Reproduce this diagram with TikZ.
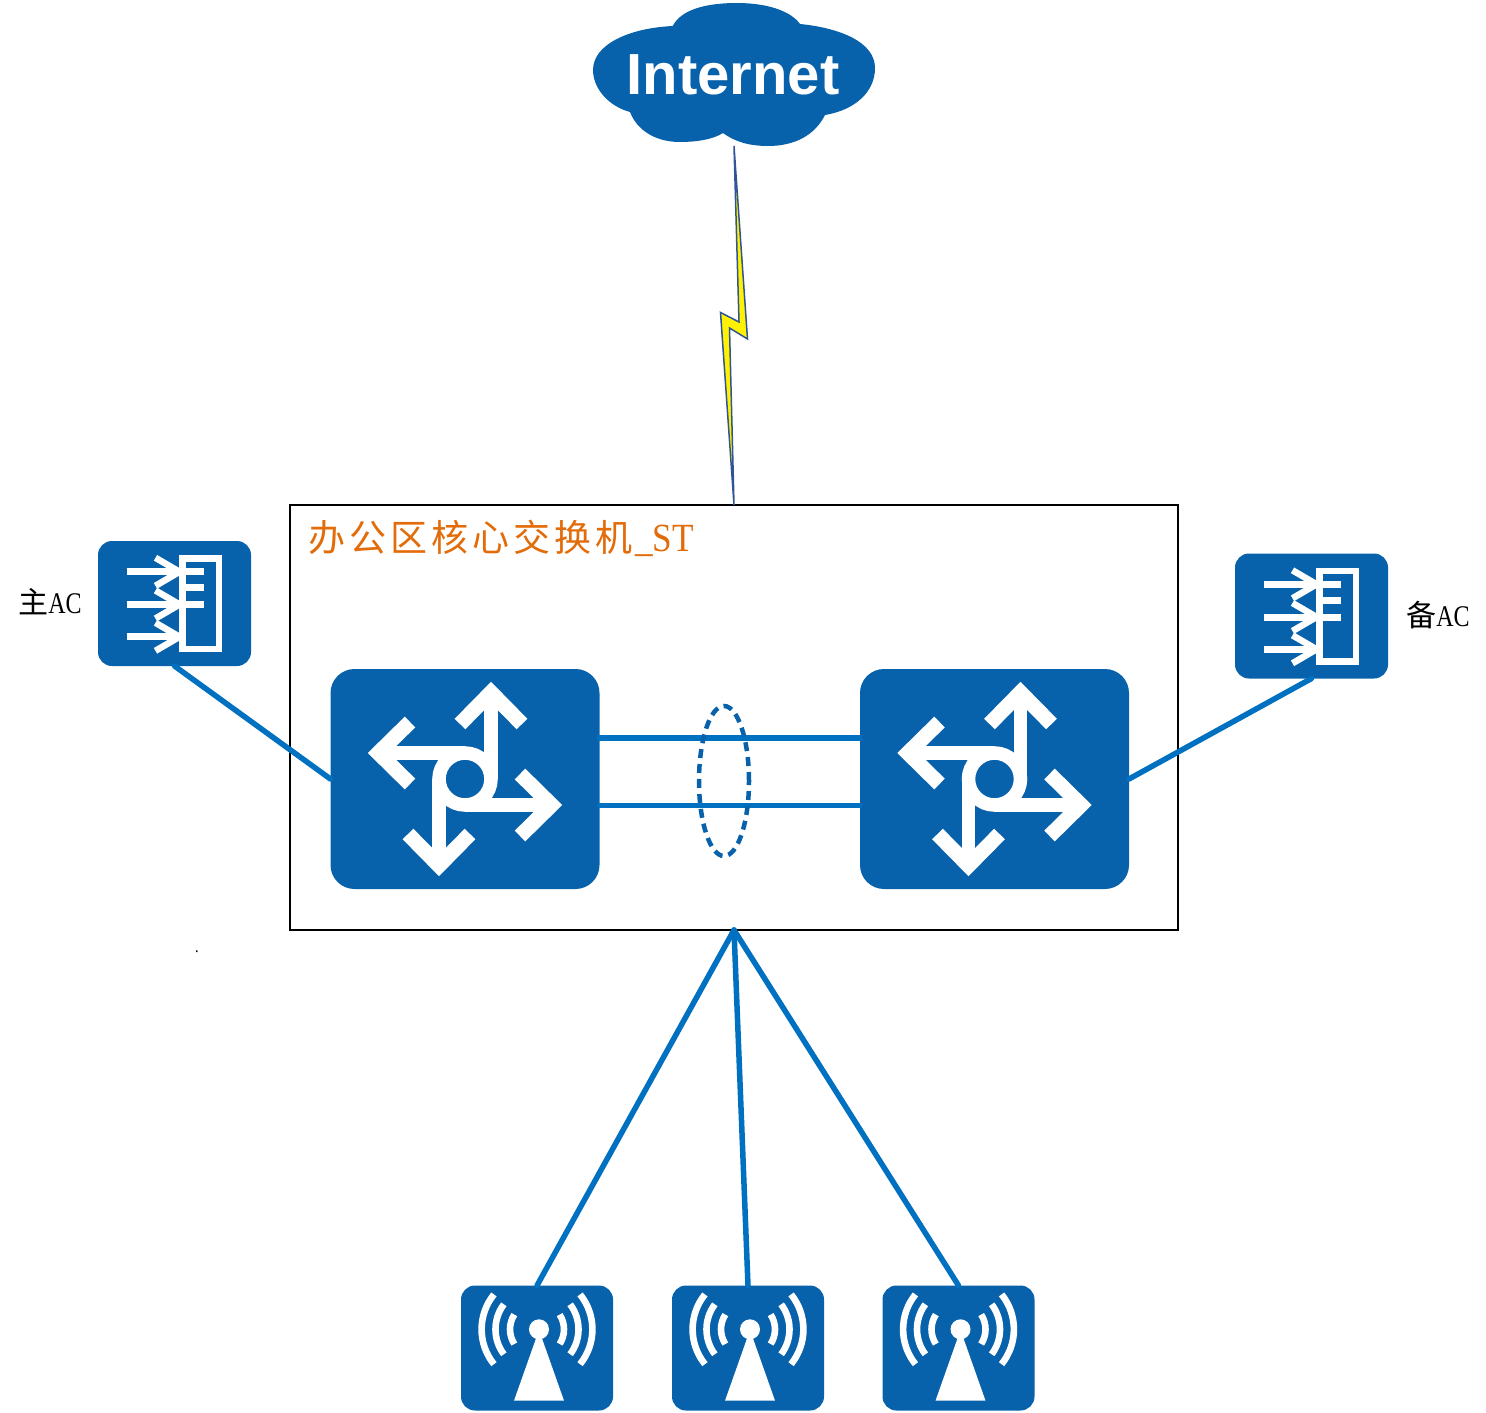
\documentclass[tikz,border=0pt]{standalone}
\usepackage{fontspec}
\usetikzlibrary{shapes.geometric}
\setmainfont{Liberation Sans}
\newfontfamily\cjkfont{Noto Sans CJK SC}
\newfontfamily\latinfont[FakeStretch=0.8]{Liberation Serif}
\newfontfamily\titlefont[FakeStretch=0.88]{Liberation Serif}
\definecolor{devblue}{HTML}{0862AB}
\definecolor{linkblue}{HTML}{0070C0}
\definecolor{boltblue}{HTML}{2F5597}
\definecolor{titleorange}{HTML}{E36C0A}
\tikzset{
	device/.style={fill=devblue, rounded corners=#1, inner sep=0, outer sep=0},
	acbox/.style={device=14, minimum width=153, minimum height=125},
	apbox/.style={device=14, minimum width=152, minimum height=125},
	rwbox/.style={device=24, minimum width=269, minimum height=220},
	link/.style={draw=linkblue, line width=5.5, line cap=round},
	glyph/.style={draw=white, line width=#1, miter limit=10},
	caption/.style={inner sep=0, font=\fontsize{30}{36}\selectfont}
}
% router glyph
\newcommand{\rwglyph}[1]{
	\begin{scope}[shift={(#1)}]
		\draw[glyph=13.5] (0,0) circle (26pt);
		\foreach \a in {0,90,180,270} {
			\begin{scope}[rotate=\a]
				\draw[glyph=13.5] (0,26)--(84,26);
				\draw[glyph=15] (55,-5)--(86.5,26)--(55,57);
			\end{scope}
		}
	\end{scope}
}
% AC glyph
\newcommand{\acglyph}[1]{
	\begin{scope}[shift={(#1)}]
		\draw[glyph=6.5] (8.2,-45) rectangle (44.5,45.7);
		\foreach \y in {-31.7,1,33.3} {
			\draw[glyph=7] (-48,\y)--(5,\y);
			\draw[glyph=6.5] (-19,\y-14)--(5,\y)--(-19,\y+14);
		}
		\foreach \y in {-31.7,-15.7,1} {
			\draw[glyph=7] (8,\y)--(29.5,\y);
		}
	\end{scope}
}
% AP glyph
\newcommand{\apglyph}[1]{
	\begin{scope}[shift={(#1)}]
		\fill[white] (-23,52.7)--(2,-18)--(27,52.7)--cycle;
		\fill[white] (2,-18.7) circle (10pt);
		\begin{scope}[shift={(0,-18.7)}]
			\foreach \r/\b in {27/33,41.5/37,55.4/39} {
				\draw[glyph=6.6] (\b:\r pt) arc[start angle=\b, end angle=-\b, radius=\r pt];
				\draw[glyph=6.6] (180-\b:\r pt) arc[start angle=180-\b, end angle=180+\b, radius=\r pt];
			}
		\end{scope}
	\end{scope}
}
\begin{document}
\begin{tikzpicture}[x=1pt, y=-1pt]
	\useasboundingbox (0,0) rectangle (1486,1413);

	% NODES
	\node[draw=black, line width=1.5, inner sep=0, outer sep=0, minimum width=888, minimum height=425] (core) at (734,717.5) {};
	\node[rwbox] (rw1) at (465,779) {};
	\node[rwbox] (rw2) at (994.5,779) {};
	\node[acbox] (ac1) at (174.5,603.5) {};
	\node[acbox] (ac2) at (1311.5,616) {};
	\node[apbox] (ap1) at (537,1348) {};
	\node[apbox] (ap2) at (748,1348) {};
	\node[apbox] (ap3) at (958.5,1348) {};
	\coordinate (boltTop) at (734,146);

	% CLOUD
	\fill[devblue] (672.7,26) .. controls (682,8) and (710,3) .. (737,3)
		.. controls (765,3) and (790,10) .. (800,24)
		.. controls (840,28) and (875,42) .. (875,68)
		.. controls (875,92) and (855,110) .. (825,115)
		.. controls (815,135) and (795,146) .. (768,146)
		.. controls (750,146) and (735,142) .. (723,133)
		.. controls (712,140) and (695,142) .. (680,142)
		.. controls (655,142) and (637,130) .. (630,112)
		.. controls (608,106) and (593,88) .. (593,70)
		.. controls (593,44) and (630,28) .. (672.7,26) -- cycle;
	\node[inner sep=0, text=white, font=\fontsize{58}{60}\selectfont\bfseries] (internet) at (733,75) {Internet};

	% DRAW LINKS
	\draw[link] (ac1.south)--(rw1.west);
	\draw[link] (ac2.south)--(rw2.east);
	\draw[link] ([yshift=41pt]rw1.east)--([yshift=41pt]rw2.west);
	\draw[link] ([yshift=-26.5pt]rw1.east)--([yshift=-26.5pt]rw2.west);
	\draw[link] (ap1.north)--(core.south);
	\draw[link] (ap2.north)--(core.south);
	\draw[link] (ap3.north)--(core.south);
	\node[draw=devblue, dash pattern=on 9pt off 6pt, line width=4.5, ellipse, inner sep=0, minimum width=50, minimum height=150] (lag) at (724,781) {};

	% BOLT
	\draw[draw=boltblue, fill=yellow, line width=1.5, line join=miter] (boltTop)--(739,322)--(720.5,312.5)--(core.north)--(729.5,328)--(747.5,339)--cycle;

	% DRAW GLYPHS
	\rwglyph{rw1.center}
	\rwglyph{rw2.center}
	\acglyph{ac1.center}
	\acglyph{ac2.center}
	\apglyph{ap1.center}
	\apglyph{ap2.center}
	\apglyph{ap3.center}

	% LABELS
	\node[inner sep=0, anchor=west, text=titleorange, font=\fontsize{37}{44}\selectfont] (title) at (308,538) {\cjkfont 办\hspace{4pt}公\hspace{4pt}区\hspace{4pt}核\hspace{4pt}心\hspace{4pt}交\hspace{4pt}换\hspace{4pt}机\hspace{3pt}{\fontsize{40}{44}\selectfont\titlefont \_ST}};
	\node[caption] (ac1label) at (50,602) {{\cjkfont 主}\latinfont AC};
	\node[caption] (ac2label) at (1438,615) {{\cjkfont 备}\latinfont AC};
	\node[inner sep=0, font=\fontsize{18}{20}\selectfont\latinfont] (dot) at (197,952) {.};
\end{tikzpicture}
\end{document}
